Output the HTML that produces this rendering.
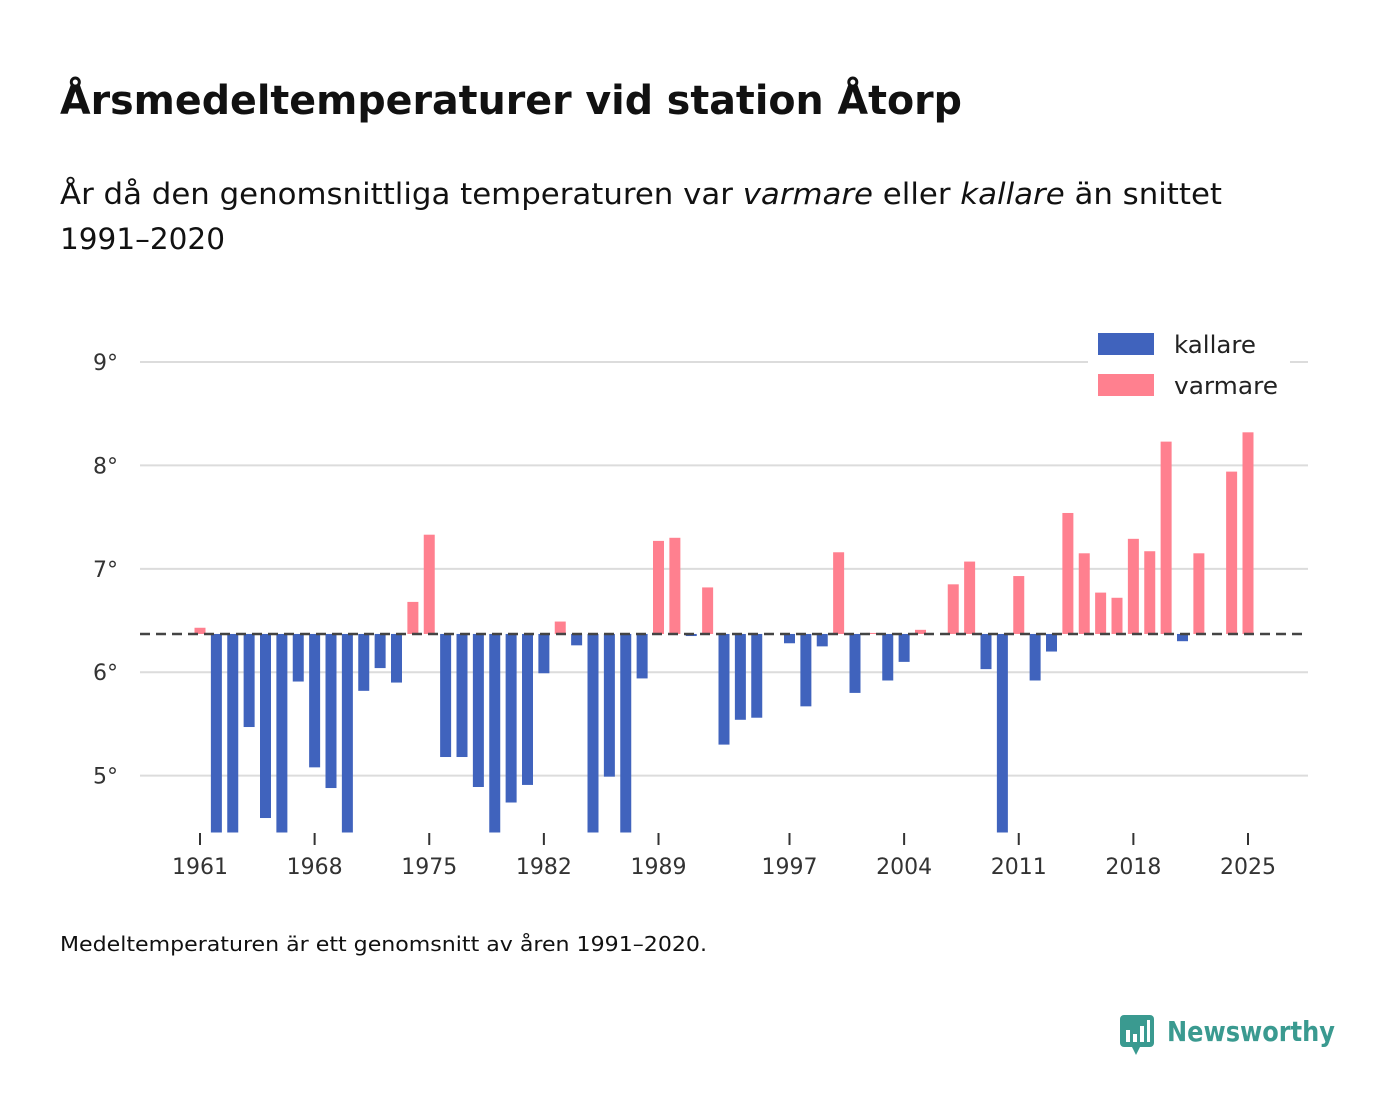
<!DOCTYPE html>
<html><head><meta charset="utf-8"><style>
body{margin:0;background:#fff;font-family:"DejaVu Sans","Liberation Sans",sans-serif;}
#wrap{position:relative;width:1400px;height:1116px;overflow:hidden}
svg text{font-family:"DejaVu Sans","Liberation Sans",sans-serif;}
</style></head><body>
<div id="wrap">
<svg id="chart" width="1400" height="1116" xmlns="http://www.w3.org/2000/svg">
<text x="60" y="114" font-size="40" font-weight="bold" fill="#111" textLength="902" lengthAdjust="spacingAndGlyphs">Årsmedeltemperaturer vid station Åtorp</text>
<text x="60" y="204" font-size="29" fill="#111" textLength="1162" lengthAdjust="spacingAndGlyphs">År då den genomsnittliga temperaturen var <tspan font-style="italic">varmare</tspan> eller <tspan font-style="italic">kallare</tspan> än snittet</text>
<text x="60" y="249" font-size="29" fill="#111" textLength="165" lengthAdjust="spacingAndGlyphs">1991–2020</text>
<g id="grid"></g>
<g id="bars"></g>
<g id="xaxis"></g>
<line id="baseline" stroke="#444" stroke-width="2.5" stroke-dasharray="10,6"/>
<g>
<rect x="1088" y="326" width="202" height="78" fill="#fff"/>
<rect x="1098" y="333" width="56" height="22" fill="#4063bd"/>
<text x="1174" y="353" font-size="24" fill="#222" textLength="82" lengthAdjust="spacingAndGlyphs">kallare</text>
<rect x="1098" y="374" width="56" height="22" fill="#ff808f"/>
<text x="1174" y="394" font-size="24" fill="#222" textLength="104" lengthAdjust="spacingAndGlyphs">varmare</text>
</g>
<text x="60" y="951" font-size="20" fill="#111" textLength="647" lengthAdjust="spacingAndGlyphs">Medeltemperaturen är ett genomsnitt av åren 1991–2020.</text>
<g>
<rect x="1120" y="1015" width="34" height="32" rx="4" fill="#3a9a90"/>
<polygon points="1132,1047 1140,1047 1136,1055" fill="#3a9a90"/>
<rect x="1126" y="1030" width="4" height="12" fill="#fff"/><rect x="1133" y="1034" width="4" height="8" fill="#fff"/><rect x="1140" y="1026" width="4" height="16" fill="#fff"/><rect x="1147" y="1020" width="3" height="22" fill="#fff"/>
<text x="1167" y="1041" font-size="28" font-weight="bold" fill="#3a9a90" textLength="168" lengthAdjust="spacingAndGlyphs">Newsworthy</text>
</g>
</svg>
</div>
<script>
const years = [];
for (let y = 1961; y <= 2025; y++) years.push(y);
const temps = [6.43,4.3,4.3,5.47,4.59,4.3,5.91,5.08,4.88,4.3,5.82,6.04,5.90,6.68,7.33,5.18,5.18,4.89,4.3,4.74,4.91,5.99,6.49,6.26,4.3,4.99,4.3,5.94,7.27,7.30,6.35,6.82,5.30,5.54,5.56,6.37,6.28,5.67,6.25,7.16,5.80,6.38,5.92,6.10,6.41,6.37,6.85,7.07,6.03,4.3,6.93,5.92,6.20,7.54,7.15,6.77,6.72,7.29,7.17,8.23,6.30,7.15,6.37,7.94,8.32];
const average = 6.37;
const yTicks = [5,6,7,8,9];
const xTicks = [1961,1968,1975,1982,1989,1997,2004,2011,2018,2025];

const NS = "http://www.w3.org/2000/svg";
const yMin = 4.45, yMax = 9;
const yBottom = 832.5, yTop = 362;
function yScale(v){ return yBottom - (v - yMin) / (yMax - yMin) * (yBottom - yTop); }
function xScale(yr){ return 200 + (yr - 1961) * (1248 - 200) / 64; }
function mk(tag, attrs){ const e = document.createElementNS(NS, tag); for (const k in attrs) e.setAttribute(k, attrs[k]); return e; }

const grid = document.getElementById('grid');
yTicks.forEach(t => {
  const l = mk('line', {x1:140, x2:1308, y1:yScale(t), y2:yScale(t), stroke:'#dcdcdc', 'stroke-width':2});
  
  
  grid.appendChild(l);
  const tx = mk('text', {x:118, y:yScale(t)+8, 'font-size':22, fill:'#333', 'text-anchor':'end'});
  tx.textContent = t + '°';
  
  
  grid.appendChild(tx);
});

const bars = document.getElementById('bars');
const y0 = yScale(average);
years.forEach((yr, i) => {
  const v = temps[i];
  const cx = xScale(yr);
  let yv = yScale(Math.max(v, yMin));
  const top = Math.min(y0, yv), h = Math.abs(yv - y0);
  if (h < 0.5) return;
  const r = mk('rect', {x:cx-5.5, y:top, width:11, height:h, fill: v >= average ? '#ff808f' : '#4063bd'});
  
  
  bars.appendChild(r);
});

const bl = document.getElementById('baseline');
bl.setAttribute('x1', 140); bl.setAttribute('x2', 1308);
bl.setAttribute('y1', y0); bl.setAttribute('y2', y0);

const xa = document.getElementById('xaxis');
xTicks.forEach(yr => {
  const x = xScale(yr);
  const l = mk('line', {x1:x, x2:x, y1:833, y2:845, stroke:'#333', 'stroke-width':2});
  
  
  xa.appendChild(l);
  const t = mk('text', {x:x, y:874, 'font-size':22, fill:'#333', 'text-anchor':'middle'});
  t.textContent = yr;
  
  
  xa.appendChild(t);
});
</script>
</body></html>
